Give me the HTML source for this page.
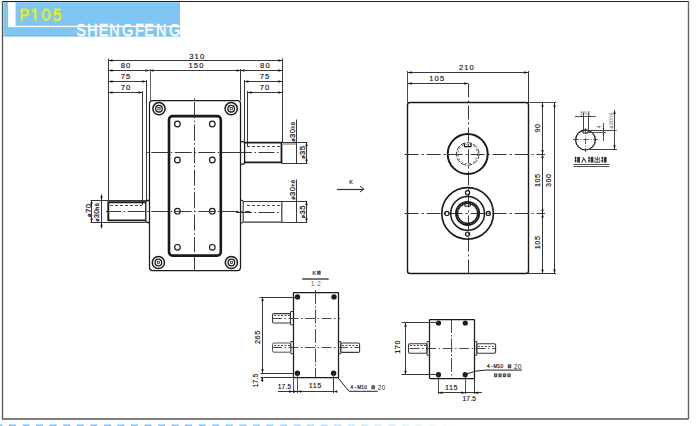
<!DOCTYPE html>
<html><head><meta charset="utf-8"><style>
html,body{margin:0;padding:0;background:#fff;}
body{width:700px;height:426px;overflow:hidden;}
svg{display:block;font-family:"Liberation Sans",sans-serif;}
</style></head><body>
<svg width="700" height="426" viewBox="0 0 700 426">
<line x1="2" y1="1.5" x2="688.5" y2="1.5" stroke="#222" stroke-width="1.2" />
<line x1="2.5" y1="1" x2="2.5" y2="419" stroke="#555" stroke-width="1.3" />
<line x1="688.5" y1="1" x2="688.5" y2="419" stroke="#666" stroke-width="1.4" />
<line x1="2" y1="419" x2="688.5" y2="419" stroke="#555" stroke-width="1.6" />
<defs><linearGradient id="fade" gradientUnits="userSpaceOnUse" x1="200" y1="0" x2="455" y2="0"><stop offset="0" stop-color="#7cc2ee"/><stop offset="1" stop-color="#ffffff"/></linearGradient></defs>
<rect x="-4.55" y="424.5" width="7" height="1.5" fill="url(#fade)"/>
<rect x="9.00" y="424.5" width="7" height="1.5" fill="url(#fade)"/>
<rect x="22.55" y="424.5" width="7" height="1.5" fill="url(#fade)"/>
<rect x="36.10" y="424.5" width="7" height="1.5" fill="url(#fade)"/>
<rect x="49.65" y="424.5" width="7" height="1.5" fill="url(#fade)"/>
<rect x="63.20" y="424.5" width="7" height="1.5" fill="url(#fade)"/>
<rect x="76.75" y="424.5" width="7" height="1.5" fill="url(#fade)"/>
<rect x="90.30" y="424.5" width="7" height="1.5" fill="url(#fade)"/>
<rect x="103.85" y="424.5" width="7" height="1.5" fill="url(#fade)"/>
<rect x="117.40" y="424.5" width="7" height="1.5" fill="url(#fade)"/>
<rect x="130.95" y="424.5" width="7" height="1.5" fill="url(#fade)"/>
<rect x="144.50" y="424.5" width="7" height="1.5" fill="url(#fade)"/>
<rect x="158.05" y="424.5" width="7" height="1.5" fill="url(#fade)"/>
<rect x="171.60" y="424.5" width="7" height="1.5" fill="url(#fade)"/>
<rect x="185.15" y="424.5" width="7" height="1.5" fill="url(#fade)"/>
<rect x="198.70" y="424.5" width="7" height="1.5" fill="url(#fade)"/>
<rect x="212.25" y="424.5" width="7" height="1.5" fill="url(#fade)"/>
<rect x="225.80" y="424.5" width="7" height="1.5" fill="url(#fade)"/>
<rect x="239.35" y="424.5" width="7" height="1.5" fill="url(#fade)"/>
<rect x="252.90" y="424.5" width="7" height="1.5" fill="url(#fade)"/>
<rect x="266.45" y="424.5" width="7" height="1.5" fill="url(#fade)"/>
<rect x="280.00" y="424.5" width="7" height="1.5" fill="url(#fade)"/>
<rect x="293.55" y="424.5" width="7" height="1.5" fill="url(#fade)"/>
<rect x="307.10" y="424.5" width="7" height="1.5" fill="url(#fade)"/>
<rect x="320.65" y="424.5" width="7" height="1.5" fill="url(#fade)"/>
<rect x="334.20" y="424.5" width="7" height="1.5" fill="url(#fade)"/>
<rect x="347.75" y="424.5" width="7" height="1.5" fill="url(#fade)"/>
<rect x="361.30" y="424.5" width="7" height="1.5" fill="url(#fade)"/>
<rect x="374.85" y="424.5" width="7" height="1.5" fill="url(#fade)"/>
<rect x="388.40" y="424.5" width="7" height="1.5" fill="url(#fade)"/>
<rect x="401.95" y="424.5" width="7" height="1.5" fill="url(#fade)"/>
<rect x="415.50" y="424.5" width="7" height="1.5" fill="url(#fade)"/>
<rect x="429.05" y="424.5" width="7" height="1.5" fill="url(#fade)"/>
<rect x="442.60" y="424.5" width="7" height="1.5" fill="url(#fade)"/>
<rect x="456.15" y="424.5" width="7" height="1.5" fill="url(#fade)"/>
<rect x="3.3" y="2.2" width="176.7" height="34" fill="#80c6f2"/>
<rect x="8" y="2.2" width="7.5" height="25" fill="#fff"/>
<rect x="3.3" y="35.2" width="176.7" height="1.2" fill="#68b6ec"/>
<rect x="15.5" y="24.8" width="164.5" height="0.9" fill="#70baee"/>
<rect x="3.3" y="27.2" width="176.7" height="0.9" fill="#70baee"/>
<rect x="8" y="25.7" width="172" height="1.5" fill="#fff"/>
<g fill="none" stroke="#f4f400" stroke-width="1.9" stroke-linecap="butt"><path d="M21.8,20.8 L21.8,9.5 L25.2,9.5 Q28.2,9.5 28.2,12.6 Q28.2,15.6 25.2,15.6 L21.8,15.6"/><path d="M32.3,11.6 Q34.8,10.6 35.4,8.6 L35.4,20.8"/><ellipse cx="46.4" cy="14.7" rx="3.4" ry="5.2"/><path d="M60.4,9.5 L55.6,9.5 L55.0,14.4 Q56.2,13.3 57.6,13.3 Q60.5,13.3 60.5,16.8 Q60.5,20.1 57.3,20.1 Q54.8,20.1 54.2,17.9"/></g>
<text transform="scale(0.84,1)" x="90.76" y="36.0" font-size="17.2" fill="#fff" stroke="#fff" stroke-width="0.45">S</text>
<text transform="scale(0.84,1)" x="103.88" y="36.0" font-size="17.2" fill="#fff" stroke="#fff" stroke-width="0.45">H</text>
<text transform="scale(0.84,1)" x="117.69" y="36.0" font-size="17.2" fill="#fff" stroke="#fff" stroke-width="0.45">E</text>
<text transform="scale(0.84,1)" x="130.00" y="36.0" font-size="17.2" fill="#fff" stroke="#fff" stroke-width="0.45">N</text>
<text transform="scale(0.84,1)" x="145.36" y="36.0" font-size="17.2" fill="#fff" stroke="#fff" stroke-width="0.45">G</text>
<text transform="scale(0.84,1)" x="160.73" y="36.0" font-size="17.2" fill="#fff" stroke="#fff" stroke-width="0.45">F</text>
<text transform="scale(0.84,1)" x="171.86" y="36.0" font-size="17.2" fill="#fff" stroke="#fff" stroke-width="0.45">E</text>
<text transform="scale(0.84,1)" x="185.72" y="36.0" font-size="17.2" fill="#fff" stroke="#fff" stroke-width="0.45">N</text>
<text transform="scale(0.84,1)" x="201.20" y="36.0" font-size="17.2" fill="#fff" stroke="#fff" stroke-width="0.45">G</text>
<line x1="108.5" y1="60.5" x2="282.3" y2="60.5" stroke="#383838" stroke-width="1.0" />
<path d="M108.5,60.5 L112.50,59.25 L112.50,61.75 Z" fill="#1a1a1a"/>
<path d="M282.3,60.5 L278.30,61.75 L278.30,59.25 Z" fill="#1a1a1a"/>
<text x="197.3" y="58.6" font-size="7.6" text-anchor="middle" fill="#111" stroke="#111" stroke-width="0.15" font-weight="normal" letter-spacing="1.1" >310</text>
<line x1="108.5" y1="70.5" x2="282.3" y2="70.5" stroke="#383838" stroke-width="1.0" />
<path d="M108.5,70.5 L112.50,69.25 L112.50,71.75 Z" fill="#1a1a1a"/>
<path d="M282.3,70.5 L278.30,71.75 L278.30,69.25 Z" fill="#1a1a1a"/>
<path d="M149.5,70.5 L145.50,71.75 L145.50,69.25 Z" fill="#1a1a1a"/>
<path d="M240.5,70.5 L244.50,69.25 L244.50,71.75 Z" fill="#1a1a1a"/>
<path d="M149.5,70.5 L153.50,69.25 L153.50,71.75 Z" fill="#1a1a1a"/>
<path d="M240.5,70.5 L236.50,71.75 L236.50,69.25 Z" fill="#1a1a1a"/>
<text x="126" y="68.3" font-size="7.6" text-anchor="middle" fill="#111" stroke="#111" stroke-width="0.15" font-weight="normal" letter-spacing="1.1" >80</text>
<text x="196.5" y="68.3" font-size="7.6" text-anchor="middle" fill="#111" stroke="#111" stroke-width="0.15" font-weight="normal" letter-spacing="1.1" >150</text>
<text x="265.4" y="68.3" font-size="7.6" text-anchor="middle" fill="#111" stroke="#111" stroke-width="0.15" font-weight="normal" letter-spacing="1.1" >80</text>
<line x1="108.5" y1="81.5" x2="146.3" y2="81.5" stroke="#383838" stroke-width="1.0" />
<path d="M108.5,81.5 L112.50,80.25 L112.50,82.75 Z" fill="#1a1a1a"/>
<path d="M146.3,81.5 L142.30,82.75 L142.30,80.25 Z" fill="#1a1a1a"/>
<line x1="244.4" y1="81.5" x2="282.3" y2="81.5" stroke="#383838" stroke-width="1.0" />
<path d="M244.4,81.5 L248.40,80.25 L248.40,82.75 Z" fill="#1a1a1a"/>
<path d="M282.3,81.5 L278.30,82.75 L278.30,80.25 Z" fill="#1a1a1a"/>
<text x="126" y="79.0" font-size="7.6" text-anchor="middle" fill="#111" stroke="#111" stroke-width="0.15" font-weight="normal" letter-spacing="1.1" >75</text>
<text x="265" y="79.0" font-size="7.6" text-anchor="middle" fill="#111" stroke="#111" stroke-width="0.15" font-weight="normal" letter-spacing="1.1" >75</text>
<line x1="108.5" y1="92.5" x2="142.5" y2="92.5" stroke="#383838" stroke-width="1.0" />
<path d="M108.5,92.5 L112.50,91.25 L112.50,93.75 Z" fill="#1a1a1a"/>
<path d="M142.5,92.5 L138.50,93.75 L138.50,91.25 Z" fill="#1a1a1a"/>
<line x1="247.6" y1="92.5" x2="282.3" y2="92.5" stroke="#383838" stroke-width="1.0" />
<path d="M247.6,92.5 L251.60,91.25 L251.60,93.75 Z" fill="#1a1a1a"/>
<path d="M282.3,92.5 L278.30,93.75 L278.30,91.25 Z" fill="#1a1a1a"/>
<text x="126" y="90.2" font-size="7.6" text-anchor="middle" fill="#111" stroke="#111" stroke-width="0.15" font-weight="normal" letter-spacing="1.1" >70</text>
<text x="265" y="90.2" font-size="7.6" text-anchor="middle" fill="#111" stroke="#111" stroke-width="0.15" font-weight="normal" letter-spacing="1.1" >70</text>
<line x1="108.5" y1="58.5" x2="108.5" y2="201" stroke="#383838" stroke-width="1.0" />
<line x1="282.5" y1="58.5" x2="282.5" y2="142" stroke="#383838" stroke-width="1.0" />
<line x1="150.5" y1="69" x2="150.5" y2="100.5" stroke="#666" stroke-width="1.0" />
<line x1="240.5" y1="69" x2="240.5" y2="100.5" stroke="#383838" stroke-width="1.0" />
<line x1="146.5" y1="80" x2="146.5" y2="201" stroke="#383838" stroke-width="1.0" />
<line x1="142.5" y1="91" x2="142.5" y2="205" stroke="#383838" stroke-width="1.0" />
<line x1="244.5" y1="80" x2="244.5" y2="142" stroke="#383838" stroke-width="1.0" />
<line x1="247.5" y1="91" x2="247.5" y2="146" stroke="#383838" stroke-width="1.0" />
<rect x="149.5" y="100.5" width="91.0" height="170.0" rx="3" stroke="#1a1a1a" stroke-width="1.25" fill="none"/>
<circle cx="159" cy="108.7" r="6.1" stroke="#1a1a1a" stroke-width="1.5" fill="none" />
<circle cx="159" cy="108.7" r="3.3" stroke="#1a1a1a" stroke-width="1.3" fill="none" />
<rect x="157.9" y="107.60000000000001" width="2.2" height="2.2" fill="none" stroke="#1a1a1a" stroke-width="0.7"/>
<circle cx="231.2" cy="108.7" r="6.1" stroke="#1a1a1a" stroke-width="1.5" fill="none" />
<circle cx="231.2" cy="108.7" r="3.3" stroke="#1a1a1a" stroke-width="1.3" fill="none" />
<rect x="230.1" y="107.60000000000001" width="2.2" height="2.2" fill="none" stroke="#1a1a1a" stroke-width="0.7"/>
<circle cx="158.4" cy="262.5" r="6.1" stroke="#1a1a1a" stroke-width="1.5" fill="none" />
<circle cx="158.4" cy="262.5" r="3.3" stroke="#1a1a1a" stroke-width="1.3" fill="none" />
<rect x="157.3" y="261.4" width="2.2" height="2.2" fill="none" stroke="#1a1a1a" stroke-width="0.7"/>
<circle cx="231.4" cy="262.5" r="6.1" stroke="#1a1a1a" stroke-width="1.5" fill="none" />
<circle cx="231.4" cy="262.5" r="3.3" stroke="#1a1a1a" stroke-width="1.3" fill="none" />
<rect x="230.3" y="261.4" width="2.2" height="2.2" fill="none" stroke="#1a1a1a" stroke-width="0.7"/>
<rect x="169" y="116.1" width="51.8" height="139.5" rx="3.5" stroke="#1a1a1a" stroke-width="2.6" fill="none"/>
<circle cx="177.4" cy="124" r="2.8" stroke="#1a1a1a" stroke-width="1.2" fill="none" />
<circle cx="177.4" cy="160" r="2.8" stroke="#1a1a1a" stroke-width="1.2" fill="none" />
<circle cx="177.4" cy="211.2" r="2.8" stroke="#1a1a1a" stroke-width="1.2" fill="none" />
<circle cx="177.4" cy="247.3" r="2.8" stroke="#1a1a1a" stroke-width="1.2" fill="none" />
<circle cx="212.3" cy="124" r="2.8" stroke="#1a1a1a" stroke-width="1.2" fill="none" />
<circle cx="212.3" cy="160" r="2.8" stroke="#1a1a1a" stroke-width="1.2" fill="none" />
<circle cx="212.3" cy="211.2" r="2.8" stroke="#1a1a1a" stroke-width="1.2" fill="none" />
<circle cx="212.3" cy="247.3" r="2.8" stroke="#1a1a1a" stroke-width="1.2" fill="none" />
<line x1="194.5" y1="96.5" x2="194.5" y2="252" stroke="#383838" stroke-width="1.0" stroke-dasharray="16 2.5 1.5 2.5" stroke-dashoffset="16.85"/>
<line x1="194.5" y1="256" x2="194.5" y2="270.6" stroke="#383838" stroke-width="1.0" />
<line x1="146" y1="152.5" x2="250" y2="152.5" stroke="#383838" stroke-width="1.0" stroke-dasharray="17 2.5 1.5 2.5" stroke-dashoffset="18.25"/>
<line x1="106" y1="211.5" x2="250" y2="211.5" stroke="#383838" stroke-width="1.0" stroke-dasharray="17 2.5 1.5 2.5" stroke-dashoffset="1.75"/>
<path d="M240.6,141.7 L243,141.7 Q244.6,141.7 244.6,143.5 L244.6,162.5 Q244.6,164.2 243,164.2 L240.6,164.2" stroke="#1a1a1a" stroke-width="1.3" fill="none" />
<path d="M244.6,142.7 L281.5,142.7 L281.5,162.4 L244.6,162.4" stroke="#1a1a1a" stroke-width="1.8" fill="none" />
<line x1="247" y1="146.5" x2="281" y2="146.5" stroke="#383838" stroke-width="0.9" stroke-dasharray="3 2"/>
<line x1="236" y1="152.5" x2="282" y2="152.5" stroke="#383838" stroke-width="1.0" stroke-dasharray="16 2.5 1.5 2.5"/>
<line x1="281.5" y1="142.5" x2="307.5" y2="142.5" stroke="#383838" stroke-width="1.0" />
<line x1="282" y1="144" x2="296.5" y2="144" stroke="#b0b0b0" stroke-width="2" />
<line x1="281.5" y1="163.5" x2="307.5" y2="163.5" stroke="#383838" stroke-width="1.0" />
<line x1="296.5" y1="119.5" x2="296.5" y2="163.6" stroke="#383838" stroke-width="1.0" />
<line x1="306.5" y1="142.2" x2="306.5" y2="163.6" stroke="#383838" stroke-width="1.0" />
<path d="M306.5,142.2 L307.75,146.20 L305.25,146.20 Z" fill="#1a1a1a"/>
<path d="M306.5,163.6 L305.25,159.60 L307.75,159.60 Z" fill="#1a1a1a"/>
<text x="295.2" y="141.6" transform="rotate(-90 295.2 141.6)" fill="#111" stroke="#111" stroke-width="0.22" letter-spacing="0.5"><tspan font-size="5.2">ø</tspan><tspan font-size="7.6">30</tspan><tspan font-size="5.6">h6</tspan></text>
<text x="304.9" y="158.6" transform="rotate(-90 304.9 158.6)" fill="#111" stroke="#111" stroke-width="0.22" letter-spacing="0.5"><tspan font-size="5.2">ø</tspan><tspan font-size="7.6">35</tspan></text>
<path d="M240.7,200.4 L242,200.4 Q243.2,200.4 243.2,202 L243.2,221.3 Q243.2,222.9 242,222.9 L240.7,222.9" stroke="#383838" stroke-width="1.1" fill="none" />
<path d="M243.2,201.5 L281.8,201.5 L281.8,222.2 L243.2,222.2" stroke="#383838" stroke-width="1.2" fill="none" />
<line x1="247" y1="205.5" x2="281" y2="205.5" stroke="#383838" stroke-width="0.9" stroke-dasharray="3 2"/>
<line x1="236" y1="212.5" x2="282" y2="212.5" stroke="#383838" stroke-width="1.0" stroke-dasharray="16 2.5 1.5 2.5"/>
<line x1="281.8" y1="201.5" x2="307.3" y2="201.5" stroke="#383838" stroke-width="1.0" />
<line x1="281.8" y1="222.5" x2="307.3" y2="222.5" stroke="#383838" stroke-width="1.0" />
<line x1="296.5" y1="179.5" x2="296.5" y2="222.5" stroke="#383838" stroke-width="1.0" />
<line x1="306.5" y1="201" x2="306.5" y2="222.5" stroke="#383838" stroke-width="1.0" />
<path d="M306.5,201 L307.75,205.00 L305.25,205.00 Z" fill="#1a1a1a"/>
<path d="M306.5,222.5 L305.25,218.50 L307.75,218.50 Z" fill="#1a1a1a"/>
<text x="295.2" y="199.6" transform="rotate(-90 295.2 199.6)" fill="#111" stroke="#111" stroke-width="0.22" letter-spacing="0.5"><tspan font-size="5.2">ø</tspan><tspan font-size="7.6">30</tspan><tspan font-size="5.6">h6</tspan></text>
<text x="304.7" y="218.2" transform="rotate(-90 304.7 218.2)" fill="#111" stroke="#111" stroke-width="0.22" letter-spacing="0.5"><tspan font-size="5.2">ø</tspan><tspan font-size="7.6">35</tspan></text>
<path d="M149.7,200.5 L147.5,200.5 Q145.8,200.5 145.8,202.2 L145.8,220.8 Q145.8,222.5 147.5,222.5 L149.7,222.5" stroke="#1a1a1a" stroke-width="1.3" fill="none" />
<path d="M145.8,202.3 L108.3,202.3 L108.3,220.4 L145.8,220.4" stroke="#1a1a1a" stroke-width="1.9" fill="none" />
<line x1="110" y1="205.5" x2="142" y2="205.5" stroke="#383838" stroke-width="0.9" stroke-dasharray="3 2"/>
<line x1="90.5" y1="200.5" x2="145.8" y2="200.5" stroke="#383838" stroke-width="1.0" />
<line x1="90.5" y1="222.5" x2="145.8" y2="222.5" stroke="#383838" stroke-width="1.0" />
<line x1="91.5" y1="200.2" x2="91.5" y2="222.6" stroke="#383838" stroke-width="1.0" />
<path d="M91.5,200.2 L92.75,204.20 L90.25,204.20 Z" fill="#1a1a1a"/>
<path d="M91.5,222.6 L90.25,218.60 L92.75,218.60 Z" fill="#1a1a1a"/>
<line x1="101.5" y1="194.5" x2="101.5" y2="228.5" stroke="#383838" stroke-width="1.0" />
<path d="M101.5,200.2 L100.25,196.20 L102.75,196.20 Z" fill="#1a1a1a"/>
<path d="M101.5,222.6 L102.75,226.60 L100.25,226.60 Z" fill="#1a1a1a"/>
<text x="90.8" y="217.0" transform="rotate(-90 90.8 217.0)" fill="#111" stroke="#111" stroke-width="0.22" letter-spacing="0.5"><tspan font-size="5.6">ø</tspan><tspan font-size="7.8">70</tspan></text>
<text x="99.3" y="221.4" transform="rotate(-90 99.3 221.4)" fill="#111" stroke="#111" stroke-width="0.22" letter-spacing="0.3"><tspan font-size="5.0">ø</tspan><tspan font-size="7.0">30</tspan><tspan font-size="5.4">h6</tspan></text>
<line x1="337" y1="189.5" x2="363.5" y2="189.5" stroke="#333" stroke-width="1.2" />
<path d="M360,186.2 L364,189.1 L360,192" stroke="#333" stroke-width="1.0" fill="none" />
<text x="351" y="184.29999999999998" font-size="5.5" text-anchor="middle" fill="#111" stroke="#111" stroke-width="0.15" font-weight="normal" letter-spacing="0" >K</text>
<rect x="407.5" y="102.5" width="121.0" height="171.0" rx="2.5" stroke="#1a1a1a" stroke-width="1.4" fill="none"/>
<line x1="407.5" y1="71" x2="407.5" y2="102.5" stroke="#383838" stroke-width="0.9" />
<line x1="528.5" y1="71" x2="528.5" y2="102.5" stroke="#383838" stroke-width="1.0" />
<line x1="407.7" y1="72.5" x2="528" y2="72.5" stroke="#383838" stroke-width="1.0" />
<path d="M407.7,72.5 L411.70,71.25 L411.70,73.75 Z" fill="#1a1a1a"/>
<path d="M528,72.5 L524.00,73.75 L524.00,71.25 Z" fill="#1a1a1a"/>
<text x="466.9" y="70.10000000000001" font-size="7.6" text-anchor="middle" fill="#111" stroke="#111" stroke-width="0.15" font-weight="normal" letter-spacing="1.1" >210</text>
<line x1="407.7" y1="83.5" x2="468.3" y2="83.5" stroke="#383838" stroke-width="1.0" />
<path d="M407.7,83.5 L411.70,82.25 L411.70,84.75 Z" fill="#1a1a1a"/>
<path d="M468.3,83.5 L464.30,84.75 L464.30,82.25 Z" fill="#1a1a1a"/>
<text x="437.3" y="80.8" font-size="7.6" text-anchor="middle" fill="#111" stroke="#111" stroke-width="0.15" font-weight="normal" letter-spacing="1.1" >105</text>
<line x1="468.5" y1="84" x2="468.5" y2="273.5" stroke="#383838" stroke-width="1.0" stroke-dasharray="14 3 2 3" stroke-dashoffset="0.60"/>
<line x1="403" y1="154.5" x2="545" y2="154.5" stroke="#383838" stroke-width="1.0" stroke-dasharray="14 3 2 3" stroke-dashoffset="20.40"/>
<line x1="403" y1="213.5" x2="545" y2="213.5" stroke="#383838" stroke-width="1.0" stroke-dasharray="14 3 2 3" stroke-dashoffset="20.40"/>
<circle cx="467.7" cy="154" r="20" stroke="#1a1a1a" stroke-width="2.0" fill="none" />
<circle cx="467.7" cy="154" r="11.3" stroke="#383838" stroke-width="1.0" fill="none" stroke-dasharray="5 1.5"/>
<circle cx="467.7" cy="154" r="9.8" stroke="#555" stroke-width="0.9" fill="none" stroke-dasharray="2 2"/>
<path d="M464.5,143.2 L464.5,146.6 L471,146.6 L471,143.2" stroke="#1a1a1a" stroke-width="1.1" fill="none" />
<circle cx="467.6" cy="213.4" r="25.8" stroke="#1a1a1a" stroke-width="1.6" fill="none" />
<circle cx="467.6" cy="213.4" r="16.9" stroke="#1a1a1a" stroke-width="1.5" fill="none" />
<circle cx="467.6" cy="213.4" r="11.6" stroke="#1a1a1a" stroke-width="1.8" fill="none" />
<circle cx="467.6" cy="213.4" r="10.0" stroke="#1a1a1a" stroke-width="1.3" fill="none" />
<circle cx="467.6" cy="192.70000000000002" r="2.1" stroke="#1a1a1a" stroke-width="1.2" fill="none" />
<circle cx="467.6" cy="234.1" r="2.1" stroke="#1a1a1a" stroke-width="1.2" fill="none" />
<circle cx="446.90000000000003" cy="213.4" r="2.1" stroke="#1a1a1a" stroke-width="1.2" fill="none" />
<circle cx="488.3" cy="213.4" r="2.1" stroke="#1a1a1a" stroke-width="1.2" fill="none" />
<path d="M464.8,203.7 L464.8,206.2 L470.4,206.2 L470.4,203.7" stroke="#1a1a1a" stroke-width="1.0" fill="none" />
<line x1="528" y1="102.5" x2="556" y2="102.5" stroke="#383838" stroke-width="0.9" />
<line x1="528" y1="273.5" x2="556" y2="273.5" stroke="#383838" stroke-width="1.0" />
<line x1="542.5" y1="102.7" x2="542.5" y2="273.5" stroke="#383838" stroke-width="1.0" />
<path d="M542.5,102.7 L543.75,106.70 L541.25,106.70 Z" fill="#1a1a1a"/>
<path d="M542.5,273.5 L541.25,269.50 L543.75,269.50 Z" fill="#1a1a1a"/>
<path d="M542.5,154 L541.25,150.00 L543.75,150.00 Z" fill="#1a1a1a"/>
<path d="M542.5,154 L543.75,158.00 L541.25,158.00 Z" fill="#1a1a1a"/>
<path d="M542.5,213.4 L541.25,209.40 L543.75,209.40 Z" fill="#1a1a1a"/>
<path d="M542.5,213.4 L543.75,217.40 L541.25,217.40 Z" fill="#1a1a1a"/>
<line x1="554.5" y1="102.7" x2="554.5" y2="273.5" stroke="#383838" stroke-width="1.0" />
<path d="M554.5,102.7 L555.75,106.70 L553.25,106.70 Z" fill="#1a1a1a"/>
<path d="M554.5,273.5 L553.25,269.50 L555.75,269.50 Z" fill="#1a1a1a"/>
<text x="540.0" y="132.3" font-size="7.2" text-anchor="start" fill="#111" stroke="#111" stroke-width="0.15" font-weight="normal" letter-spacing="0.6" transform="rotate(-90 540.3 132.3)" >90</text>
<text x="539.7" y="186.8" font-size="7.2" text-anchor="start" fill="#111" stroke="#111" stroke-width="0.15" font-weight="normal" letter-spacing="0.6" transform="rotate(-90 540 186.8)" >105</text>
<text x="539.7" y="249" font-size="7.2" text-anchor="start" fill="#111" stroke="#111" stroke-width="0.15" font-weight="normal" letter-spacing="0.6" transform="rotate(-90 540 249)" >105</text>
<text x="550.7" y="186.8" font-size="7.2" text-anchor="start" fill="#111" stroke="#111" stroke-width="0.15" font-weight="normal" letter-spacing="0.6" transform="rotate(-90 551 186.8)" >300</text>
<circle cx="585.5" cy="139.9" r="9.9" stroke="#1a1a1a" stroke-width="1.3" fill="none" />
<path d="M583,130.3 L583,133 L588,133 L588,130.3" stroke="#1a1a1a" stroke-width="1.0" fill="none" />
<line x1="573" y1="139.5" x2="598" y2="139.5" stroke="#383838" stroke-width="0.8" stroke-dasharray="6 1.5 1 1.5"/>
<line x1="585.5" y1="128" x2="585.5" y2="152" stroke="#383838" stroke-width="0.8" stroke-dasharray="6 1.5 1 1.5"/>
<line x1="574.8" y1="116.5" x2="596" y2="116.5" stroke="#555" stroke-width="1.0" />
<line x1="583.5" y1="112.5" x2="583.5" y2="130.5" stroke="#444" stroke-width="1.0" />
<line x1="588.5" y1="112.5" x2="588.5" y2="130.5" stroke="#444" stroke-width="1.0" />
<path d="M583,116.4 L580.80,117.20 L580.80,115.60 Z" fill="#1a1a1a"/>
<path d="M588,116.4 L590.20,115.60 L590.20,117.20 Z" fill="#1a1a1a"/>
<text x="585.3" y="115.2" font-size="5.0" text-anchor="middle" fill="#777" stroke="#777" stroke-width="0" font-weight="normal" letter-spacing="0.3" >8N9</text>
<line x1="585.5" y1="130.5" x2="616.7" y2="130.5" stroke="#444" stroke-width="1.0" />
<line x1="588" y1="132.5" x2="606" y2="132.5" stroke="#555" stroke-width="1.0" />
<line x1="603.5" y1="123" x2="603.5" y2="141" stroke="#555" stroke-width="1.0" />
<path d="M603.5,130.4 L602.70,128.20 L604.30,128.20 Z" fill="#1a1a1a"/>
<path d="M603.5,132.8 L604.30,135.00 L602.70,135.00 Z" fill="#1a1a1a"/>
<text x="601.2" y="126.8" font-size="5.2" text-anchor="middle" fill="#555" stroke="#555" stroke-width="0" font-weight="normal" letter-spacing="0" transform="rotate(-90 601.2 126.8)" >4</text>
<line x1="585.5" y1="149.5" x2="617" y2="149.5" stroke="#444" stroke-width="1.0" />
<line x1="614.5" y1="110" x2="614.5" y2="149.3" stroke="#444" stroke-width="1.0" />
<path d="M614.5,110 L615.75,114.00 L613.25,114.00 Z" fill="#1a1a1a"/>
<path d="M614.5,149.3 L613.25,145.30 L615.75,145.30 Z" fill="#1a1a1a"/>
<text x="612.9" y="128.7" font-size="5.6" text-anchor="start" fill="#666" stroke="#666" stroke-width="0" font-weight="normal" letter-spacing="0.1" transform="rotate(-90 612.9 128.7)" >ø30h6</text>
<path d="M574.5,158.1 H576.66 M575.58,156.6 V162.6 M574.5,160.79999999999998 H576.66" stroke="#1a1a1a" stroke-width="0.9" fill="none" />
<rect x="577.2" y="156.9" width="2.7" height="5.699999999999999" fill="#1a1a1a" opacity="0.9"/>
<path d="M582.45,157.2 L583.8000000000001,158.4 L581.64,162.6 M583.8000000000001,158.4 L586.23,162.6" stroke="#1a1a1a" stroke-width="1.0" fill="none" />
<path d="M588.0,158.1 H590.16 M589.08,156.6 V162.6 M588.0,160.79999999999998 H590.16" stroke="#1a1a1a" stroke-width="0.9" fill="none" />
<rect x="590.7" y="156.9" width="2.7" height="5.699999999999999" fill="#1a1a1a" opacity="0.9"/>
<path d="M597.3000000000001,156.6 V162.6 M595.248,157.2 V159.29999999999998 H599.352 V157.2 M594.87,160.2 V162.29999999999998 H599.73 V160.2" stroke="#444" stroke-width="0.9" fill="none" />
<path d="M601.2,158.1 H603.36 M602.2800000000001,156.6 V162.6 M601.2,160.79999999999998 H603.36" stroke="#1a1a1a" stroke-width="0.9" fill="none" />
<rect x="603.9000000000001" y="156.9" width="2.7" height="5.699999999999999" fill="#1a1a1a" opacity="0.9"/>
<line x1="573.3" y1="164.5" x2="609.3" y2="164.5" stroke="#555" stroke-width="1.2" />
<line x1="573.3" y1="166.5" x2="609.3" y2="166.5" stroke="#555" stroke-width="1.2" />
<text x="312.4" y="274.6" font-size="5.4" fill="#222" stroke="#222" stroke-width="0.2">K</text>
<rect x="317.2" y="270.8" width="3.4" height="3.8" fill="#1a1a1a" opacity="0.85"/>
<rect x="318.56" y="271.75" width="0.68" height="1.9" fill="#fff" opacity="0.6"/>
<line x1="302.1" y1="279" x2="328.7" y2="279" stroke="#555" stroke-width="1.6" />
<text x="316.0" y="285.9" font-size="6.4" text-anchor="middle" fill="#666" stroke="#666" stroke-width="0" font-weight="normal" letter-spacing="0.5" >1:2</text>
<rect x="293.5" y="292.5" width="45.0" height="85.0" rx="0.5" stroke="#1a1a1a" stroke-width="1.25" fill="none"/>
<circle cx="297.5" cy="296.9" r="2.7" stroke="#1a1a1a" stroke-width="0" fill="#1a1a1a" />
<circle cx="334" cy="296.9" r="2.7" stroke="#1a1a1a" stroke-width="0" fill="#1a1a1a" />
<circle cx="297.4" cy="373.2" r="2.7" stroke="#1a1a1a" stroke-width="0" fill="#1a1a1a" />
<circle cx="333.6" cy="373.2" r="2.7" stroke="#1a1a1a" stroke-width="0" fill="#1a1a1a" />
<line x1="315.5" y1="290" x2="315.5" y2="377" stroke="#383838" stroke-width="0.9" stroke-dasharray="14 2 1.5 2"/>
<line x1="272" y1="318.5" x2="340" y2="318.5" stroke="#383838" stroke-width="0.9" stroke-dasharray="10 2.5 1.5 2.5"/>
<line x1="272" y1="347.5" x2="360" y2="347.5" stroke="#383838" stroke-width="0.9" stroke-dasharray="10 2.5 1.5 2.5"/>
<path d="M290.5,311.5 L293,311.5 M290.5,324.8 L293,324.8 M290.5,311.5 L290.5,324.8" stroke="#383838" stroke-width="1.0" fill="none" />
<rect x="272.5" y="313.6" width="18" height="9.4" rx="1.5" stroke="#383838" stroke-width="1.1" fill="none"/>
<line x1="274" y1="315.5" x2="290" y2="315.5" stroke="#383838" stroke-width="0.9" stroke-dasharray="2 1.5"/>
<path d="M290.8,341.5 L293,341.5 M290.8,353.8 L293,353.8 M290.8,341.5 L290.8,353.8" stroke="#383838" stroke-width="1.0" fill="none" />
<rect x="272.5" y="343" width="18.3" height="9.2" rx="1.5" stroke="#555" stroke-width="1.0" fill="none"/>
<line x1="274" y1="345.5" x2="290" y2="345.5" stroke="#383838" stroke-width="0.9" stroke-dasharray="2 1.5"/>
<path d="M340.8,341.5 L338.5,341.5 M340.8,353.8 L338.5,353.8 M340.8,341.5 L340.8,353.8" stroke="#383838" stroke-width="1.0" fill="none" />
<rect x="340.8" y="343" width="18.8" height="9.4" rx="1.5" stroke="#383838" stroke-width="1.1" fill="none"/>
<line x1="342" y1="345.5" x2="358" y2="345.5" stroke="#383838" stroke-width="0.9" stroke-dasharray="2 1.5"/>
<line x1="259.5" y1="297.5" x2="297.6" y2="297.5" stroke="#383838" stroke-width="1.0" />
<line x1="260.5" y1="373.5" x2="293" y2="373.5" stroke="#383838" stroke-width="1.0" />
<line x1="260.5" y1="377.5" x2="293" y2="377.5" stroke="#383838" stroke-width="1.0" />
<line x1="262.5" y1="297" x2="262.5" y2="373" stroke="#383838" stroke-width="1.0" />
<path d="M262.5,297 L263.75,301.00 L261.25,301.00 Z" fill="#1a1a1a"/>
<path d="M262.5,373 L261.25,369.00 L263.75,369.00 Z" fill="#1a1a1a"/>
<line x1="262.5" y1="377" x2="262.5" y2="382" stroke="#383838" stroke-width="1.0" />
<path d="M262.2,377 L263.45,381.00 L260.95,381.00 Z" fill="#1a1a1a"/>
<text x="259.8" y="343.7" font-size="7.2" text-anchor="start" fill="#111" stroke="#111" stroke-width="0.15" font-weight="normal" letter-spacing="0.6" transform="rotate(-90 260.1 343.7)" >265</text>
<text x="258.09999999999997" y="387.0" font-size="6.6" text-anchor="start" fill="#111" stroke="#111" stroke-width="0.15" font-weight="normal" letter-spacing="0.2" transform="rotate(-90 258.4 387.0)" >17.5</text>
<line x1="293.5" y1="377" x2="293.5" y2="393" stroke="#383838" stroke-width="0.9" />
<line x1="297.5" y1="373" x2="297.5" y2="393" stroke="#383838" stroke-width="0.9" />
<line x1="333.5" y1="373" x2="333.5" y2="393" stroke="#383838" stroke-width="1.0" />
<line x1="278" y1="391.5" x2="333.4" y2="391.5" stroke="#383838" stroke-width="1.0" />
<path d="M293,391.6 L289.00,392.85 L289.00,390.35 Z" fill="#1a1a1a"/>
<path d="M297.4,391.6 L301.40,390.35 L301.40,392.85 Z" fill="#1a1a1a"/>
<path d="M297.4,391.6 L293.40,392.85 L293.40,390.35 Z" fill="#1a1a1a"/>
<path d="M333.4,391.6 L337.40,390.35 L337.40,392.85 Z" fill="#1a1a1a"/>
<text x="284.5" y="389.3" font-size="6.6" text-anchor="middle" fill="#111" stroke="#111" stroke-width="0.15" font-weight="normal" letter-spacing="0.2" >17.5</text>
<text x="315.3" y="388.4" font-size="7.2" text-anchor="middle" fill="#111" stroke="#111" stroke-width="0.15" font-weight="normal" letter-spacing="0.6" >115</text>
<path d="M338,377.8 L349.1,391.3 L377.7,391.3" stroke="#222" stroke-width="1.0" fill="none" />
<text x="350.59999999999997" y="388.9" font-size="4.7" fill="#222" stroke="#222" stroke-width="0.2">4</text>
<text x="354.8" y="388.9" font-size="4.7" fill="#222" stroke="#222" stroke-width="0.2">-</text>
<text x="357.2" y="388.9" font-size="4.7" fill="#222" stroke="#222" stroke-width="0.2">M</text>
<text x="361.3" y="388.9" font-size="4.7" fill="#222" stroke="#222" stroke-width="0.2">1</text>
<text x="364.2" y="388.9" font-size="4.7" fill="#222" stroke="#222" stroke-width="0.2">0</text>
<rect x="371.5" y="385.29999999999995" width="3.4" height="3.8" fill="#222" opacity="0.85"/>
<rect x="372.86" y="386.24999999999994" width="0.68" height="1.9" fill="#fff" opacity="0.6"/>
<text x="377.7" y="389.7" font-size="6.3" fill="#222" letter-spacing="0.5">20</text>
<rect x="429.5" y="319.5" width="45.0" height="59.0" rx="0.5" stroke="#1a1a1a" stroke-width="1.25" fill="none"/>
<circle cx="438.5" cy="323" r="2.6" stroke="#1a1a1a" stroke-width="0" fill="#1a1a1a" />
<circle cx="465.3" cy="323" r="2.6" stroke="#1a1a1a" stroke-width="0" fill="#1a1a1a" />
<circle cx="438.5" cy="374.7" r="2.6" stroke="#1a1a1a" stroke-width="0" fill="#1a1a1a" />
<circle cx="465.2" cy="374.7" r="2.6" stroke="#1a1a1a" stroke-width="0" fill="#1a1a1a" />
<line x1="451.5" y1="319" x2="451.5" y2="378.6" stroke="#383838" stroke-width="0.9" stroke-dasharray="14 2 1.5 2"/>
<line x1="409.6" y1="348.5" x2="495.5" y2="348.5" stroke="#383838" stroke-width="0.9" stroke-dasharray="10 2.5 1.5 2.5"/>
<path d="M427,341.5 L429.2,341.5 M427,355.2 L429.2,355.2 M427,341.5 L427,355.2" stroke="#383838" stroke-width="1.0" fill="none" />
<rect x="408.5" y="343.7" width="18.5" height="9.6" rx="1.5" stroke="#383838" stroke-width="1.1" fill="none"/>
<line x1="410" y1="345.5" x2="426" y2="345.5" stroke="#383838" stroke-width="0.9" stroke-dasharray="2 1.5"/>
<path d="M476.8,341.5 L474.4,341.5 M476.8,355.2 L474.4,355.2 M476.8,341.5 L476.8,355.2" stroke="#383838" stroke-width="1.0" fill="none" />
<rect x="476.8" y="343.8" width="18.8" height="9.5" rx="1.5" stroke="#383838" stroke-width="1.1" fill="none"/>
<line x1="478" y1="346.5" x2="494" y2="346.5" stroke="#383838" stroke-width="0.9" stroke-dasharray="2 1.5"/>
<line x1="401.6" y1="322.5" x2="438.5" y2="322.5" stroke="#383838" stroke-width="1.0" />
<line x1="401.6" y1="374.5" x2="438.5" y2="374.5" stroke="#383838" stroke-width="1.0" />
<line x1="405.5" y1="322.8" x2="405.5" y2="374.7" stroke="#383838" stroke-width="1.0" />
<path d="M405.5,322.8 L406.75,326.80 L404.25,326.80 Z" fill="#1a1a1a"/>
<path d="M405.5,374.7 L404.25,370.70 L406.75,370.70 Z" fill="#1a1a1a"/>
<text x="399.7" y="353.5" font-size="7.2" text-anchor="start" fill="#111" stroke="#111" stroke-width="0.15" font-weight="normal" letter-spacing="0.6" transform="rotate(-90 400 353.5)" >170</text>
<line x1="438.5" y1="374.7" x2="438.5" y2="394" stroke="#383838" stroke-width="0.9" />
<line x1="465.5" y1="374.7" x2="465.5" y2="394" stroke="#383838" stroke-width="0.9" />
<line x1="474.5" y1="378.6" x2="474.5" y2="394" stroke="#383838" stroke-width="1.0" />
<line x1="438.5" y1="392.5" x2="482" y2="392.5" stroke="#383838" stroke-width="1.0" />
<path d="M438.5,392.8 L442.50,391.55 L442.50,394.05 Z" fill="#1a1a1a"/>
<path d="M465.2,392.8 L461.20,394.05 L461.20,391.55 Z" fill="#1a1a1a"/>
<path d="M474.3,392.8 L478.30,391.55 L478.30,394.05 Z" fill="#1a1a1a"/>
<text x="451.6" y="390.09999999999997" font-size="7.2" text-anchor="middle" fill="#111" stroke="#111" stroke-width="0.15" font-weight="normal" letter-spacing="0.6" >115</text>
<text x="469.3" y="400.59999999999997" font-size="6.6" text-anchor="middle" fill="#111" stroke="#111" stroke-width="0.15" font-weight="normal" letter-spacing="0.2" >17.5</text>
<path d="M465.3,374.5 Q475,370.1 485.5,370.1 L522,370.1" stroke="#222" stroke-width="1.0" fill="none" />
<text x="486.9" y="368.0" font-size="4.7" fill="#222" stroke="#222" stroke-width="0.2">4</text>
<text x="491.1" y="368.0" font-size="4.7" fill="#222" stroke="#222" stroke-width="0.2">-</text>
<text x="493.5" y="368.0" font-size="4.7" fill="#222" stroke="#222" stroke-width="0.2">M</text>
<text x="497.6" y="368.0" font-size="4.7" fill="#222" stroke="#222" stroke-width="0.2">1</text>
<text x="500.5" y="368.0" font-size="4.7" fill="#222" stroke="#222" stroke-width="0.2">0</text>
<rect x="507.8" y="364.4" width="3.4" height="3.8" fill="#222" opacity="0.85"/>
<rect x="509.16" y="365.34999999999997" width="0.68" height="1.9" fill="#fff" opacity="0.6"/>
<text x="514.0" y="368.8" font-size="6.3" fill="#222" letter-spacing="0.5">20</text>
<rect x="494.0" y="373.4" width="3.3" height="3.8" fill="#333" opacity="0.85"/>
<rect x="495.32" y="374.34999999999997" width="0.66" height="1.9" fill="#fff" opacity="0.6"/>
<rect x="498.45" y="373.4" width="3.3" height="3.8" fill="#333" opacity="0.85"/>
<rect x="499.77" y="374.34999999999997" width="0.66" height="1.9" fill="#fff" opacity="0.6"/>
<rect x="502.9" y="373.4" width="3.3" height="3.8" fill="#333" opacity="0.85"/>
<rect x="504.21999999999997" y="374.34999999999997" width="0.66" height="1.9" fill="#fff" opacity="0.6"/>
<rect x="507.35" y="373.4" width="3.3" height="3.8" fill="#333" opacity="0.85"/>
<rect x="508.67" y="374.34999999999997" width="0.66" height="1.9" fill="#fff" opacity="0.6"/>
</svg>
</body></html>
